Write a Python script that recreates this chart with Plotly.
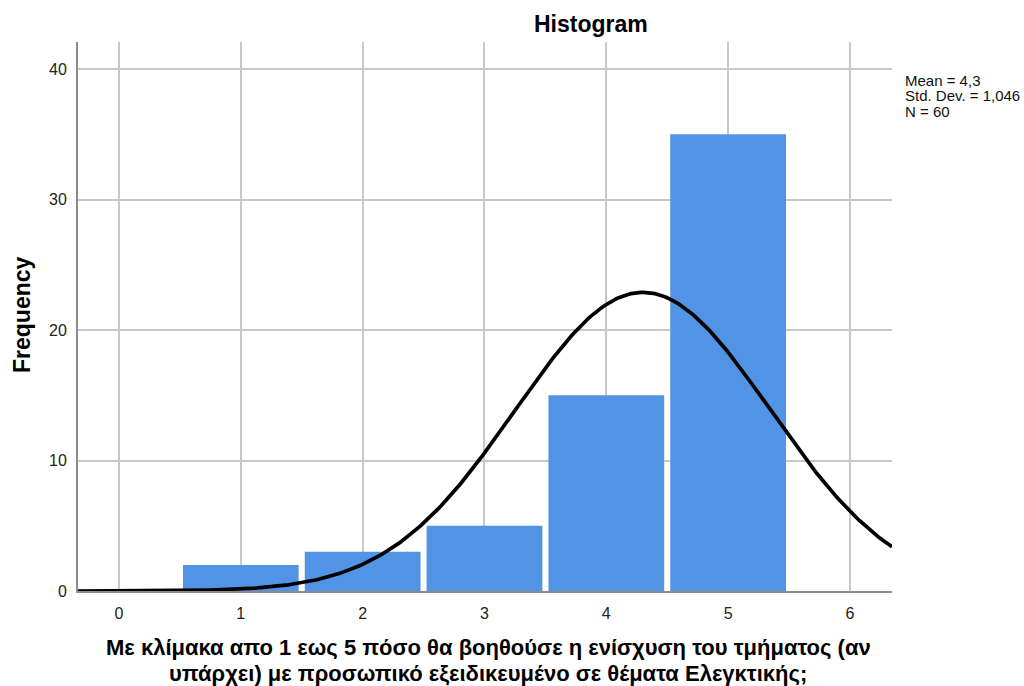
import numpy as np
import plotly.graph_objects as go

# Data
categories = [1, 2, 3, 4, 5]
frequencies = [2, 3, 5, 15, 35]
x_ticks = [0, 1, 2, 3, 4, 5, 6]
y_ticks = [0, 10, 20, 30, 40]
mean_val = 4.3
std_val = 1.046
n_val = 60
stats_lines = ["Mean = 4,3", "Std. Dev. = 1,046", "N = 60"]
title_text = "Histogram"
x_title_lines = ["Με κλίμακα απο 1 εως 5 πόσο θα βοηθούσε η ενίσχυση του τμήματος (αν",
                 "υπάρχει) με προσωπικό εξειδικευμένο σε θέματα Ελεγκτικής;"]
y_title = "Frequency"

FONT = "Liberation Sans, Arial, sans-serif"
x_range = [-0.3365, 6.345]
y_range = [0, 42.07]

L, R, T, B = 78, 132, 42, 95
W, H = 1024, 686
PW, PH = W - L - R, H - T - B

# Normal curve from reported statistics (bin width 1)
xs = np.linspace(x_range[0], x_range[1], 400)
ys = n_val * 1.0 / (std_val * np.sqrt(2 * np.pi)) * np.exp(-0.5 * ((xs - mean_val) / std_val) ** 2)

fig = go.Figure()
fig.add_trace(go.Bar(x=categories, y=frequencies, width=0.95,
                     marker=dict(color="#5193E4", line=dict(width=0)),
                     hoverinfo="x+y"))
fig.add_trace(go.Scatter(x=xs, y=ys, mode="lines",
                         line=dict(color="black", width=3.7), hoverinfo="skip"))

fig.update_layout(
    width=W, height=H,
    margin=dict(l=L, r=R, t=T, b=B, pad=0, autoexpand=False),
    paper_bgcolor="white", plot_bgcolor="white",
    showlegend=False,
    font=dict(family=FONT, color="#222"),
    xaxis=dict(range=x_range, tickvals=x_ticks, ticktext=[str(v) for v in x_ticks],
               showgrid=True, gridcolor="#c8c8c8", gridwidth=1.5, automargin=False,
               zeroline=False, showline=True, linecolor="#8c8c8c", linewidth=2,
               ticks="", tickfont=dict(size=16, color="#222"), ticklabelstandoff=7),
    yaxis=dict(range=y_range, tickvals=y_ticks, ticktext=[str(v) for v in y_ticks],
               showgrid=True, gridcolor="#c8c8c8", gridwidth=1.5, automargin=False,
               zeroline=False, showline=True, linecolor="#8c8c8c", linewidth=2,
               ticks="", tickfont=dict(size=16, color="#222"), ticklabelstandoff=6),
)

def px_x(x):
    return (x - L) / PW

def px_y(y):
    return (H - B - y) / PH

# Title
fig.add_annotation(text="<b>" + title_text + "</b>", xref="paper", yref="paper",
                   x=px_x(591), y=px_y(24), xanchor="center", yanchor="middle",
                   showarrow=False, font=dict(size=23, color="black", family=FONT))

# Y axis title
fig.add_annotation(text="<b>" + y_title + "</b>", xref="paper", yref="paper",
                   x=px_x(22), y=px_y(315), xanchor="center", yanchor="middle",
                   textangle=-90, showarrow=False,
                   font=dict(size=23, color="black", family=FONT))

# X axis title lines
for txt, yc in zip(x_title_lines, [648, 673]):
    fig.add_annotation(text="<b>" + txt + "</b>", xref="paper", yref="paper",
                       x=px_x(488), y=px_y(yc), xanchor="center", yanchor="middle",
                       showarrow=False, borderpad=0,
                       font=dict(size=22, color="black", family=FONT))

# Stats annotations
for txt, yc in zip(stats_lines, [80, 95.5, 111]):
    fig.add_annotation(text=txt, xref="paper", yref="paper",
                       x=px_x(903), y=px_y(yc),
                       xanchor="left", yanchor="middle", showarrow=False,
                       font=dict(size=15, color="#111", family=FONT))

fig.write_html("out.html", config={"displayModeBar": False},
               post_script="document.body.style.margin='0';document.body.style.padding='0';")
